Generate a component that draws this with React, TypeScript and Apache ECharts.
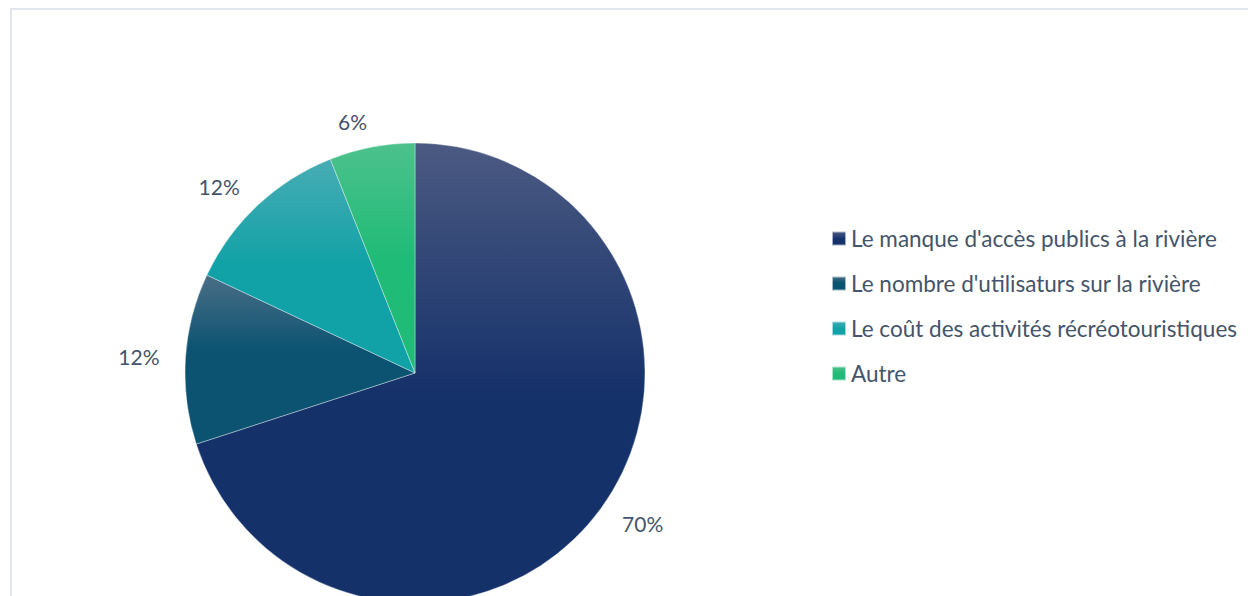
import React, { useEffect, useRef } from "react";
import * as echarts from "echarts";

const categories = [
  "Le manque d'accès publics à la rivière",
  "Le nombre d'utilisaturs sur la rivière",
  "Le coût des activités récréotouristiques",
  "Autre",
];
const values = [70, 12, 12, 6];
const labels = ["70%", "12%", "12%", "6%"];
const topColors = ["#4b5a82", "#4a6e87", "#48acb4", "#4dc18c"];
const baseColors = ["#15316a", "#0b5371", "#10a2a6", "#20bb77"];
const midStops = [0.55, 0.45, 0.5, 0.5];

export default function App() {
  const ref = useRef<HTMLDivElement>(null);
  useEffect(() => {
    if (!ref.current) return;
    const chart = echarts.init(ref.current, undefined, { renderer: "svg" });
    const font = "Lato, 'Noto Sans', sans-serif";
    chart.setOption({
      animation: false,
      backgroundColor: "#ffffff",
      graphic: [
        {
          type: "rect",
          shape: { x: 11, y: 9, width: 1400, height: 800 },
          style: { fill: "none", stroke: "#e1e5ec", lineWidth: 2 },
          silent: true,
        },
      ],
      legend: {
        orient: "vertical",
        left: 831,
        top: 227,
        padding: 0,
        icon: "rect",
        itemWidth: 14,
        itemHeight: 14,
        itemGap: 22,
        textStyle: { color: "#44546a", fontSize: 22.5, fontFamily: font },
        data: categories,
      },
      series: [
        {
          type: "pie",
          center: [415, 373],
          radius: 230,
          startAngle: 90,
          clockwise: true,
          avoidLabelOverlap: false,
          label: {
            show: true,
            position: "outside",
            color: "#44546a",
            fontSize: 21,
            fontFamily: font,
            distanceToLabelLine: 0,
            formatter: (p: any) => labels[p.dataIndex],
          },
          labelLine: { show: false, length: 26, length2: 0 },
          emphasis: { disabled: true },
          itemStyle: { borderColor: "rgba(255,255,255,0.6)", borderWidth: 0.6 },
          data: categories.map((name, i) => ({
            name,
            value: values[i],
            itemStyle: {
              color: new echarts.graphic.LinearGradient(0, 0, 0, 1, [
                { offset: 0, color: topColors[i] },
                { offset: midStops[i], color: baseColors[i] },
                { offset: 1, color: baseColors[i] },
              ]),
            },
          })),
        },
      ],
    });
    return () => chart.dispose();
  }, []);
  return (
    <div
      ref={ref}
      style={{ position: "fixed", left: 0, top: 0, width: 1248, height: 596 }}
    />
  );
}
